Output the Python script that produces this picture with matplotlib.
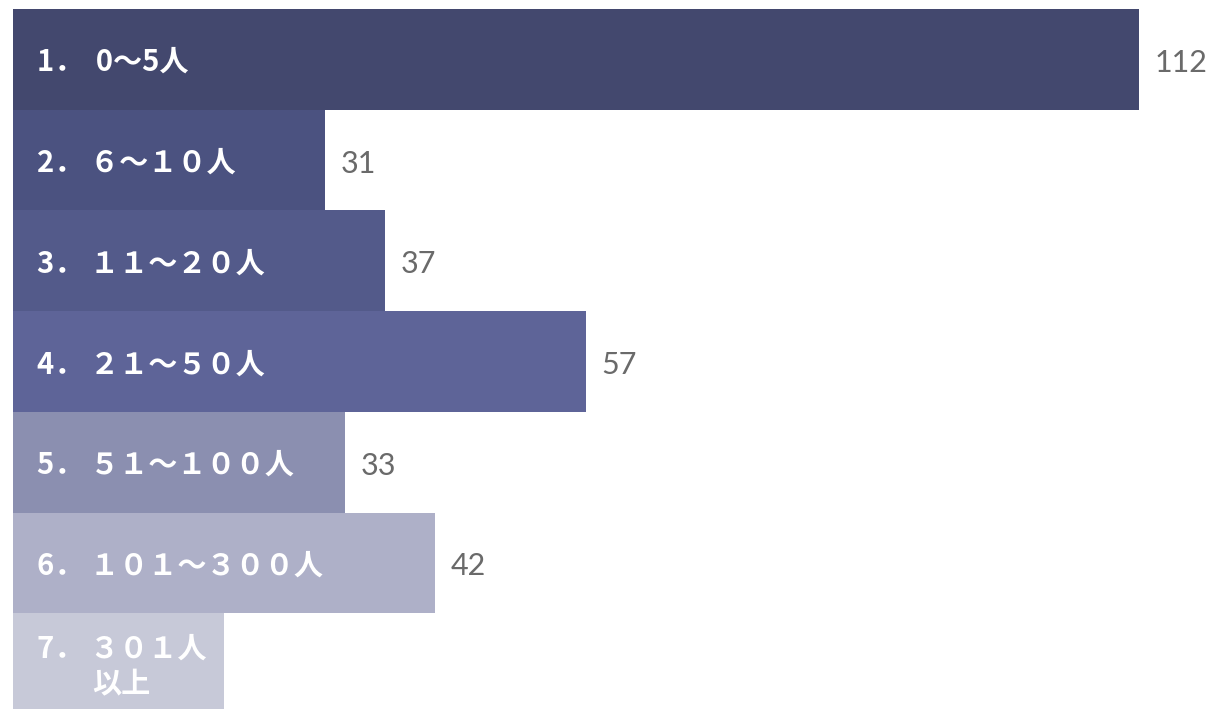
import matplotlib
matplotlib.use("Agg")
import matplotlib.pyplot as plt

# data
labels = ["1． \u20090～5人", "2． ６～１０人", "3． １１～２０人", "4． ２１～５０人",
          "5． ５１～１００人", "6． １０１～３００人", "7． ３０１人\n以上"]
values = [112, 31, 37, 57, 33, 42, 21]
show_value = [True, True, True, True, True, True, False]
colors = ["#43486e", "#4b5280", "#535a8a", "#5e6498", "#8b8fb0", "#aeb0c8", "#c7c9d8"]

fig = plt.figure(figsize=(12.13, 7.09), dpi=100)
ax = fig.add_axes([0, 0, 1, 1])

pos = list(range(len(values)))
ax.barh(pos, values, height=1.0, color=colors, linewidth=0)

for i, (lab, v) in enumerate(zip(labels, values)):
    ax.annotate(lab, xy=(0, i), xytext=(17.3, -2), textcoords="offset points",
                ha="left", va="center", multialignment="center",
                linespacing=1.2, color="white", fontsize=21, fontweight="bold",
                family=["Noto Sans CJK JP", "DejaVu Sans"])
    if show_value[i]:
        ax.annotate(str(v), xy=(v, i), xytext=(11.5, -2.5), textcoords="offset points",
                    ha="left", va="center", color="#6a6a6a", fontsize=22,
                    fontweight="normal", family=["Lato", "DejaVu Sans"])

# axis limits so that bars fill the canvas like the original
ax.set_xlim(-1.29, 119.4)
ax.set_ylim(6.45, -0.589)
ax.axis("off")

fig.savefig("out.png", dpi=100)
